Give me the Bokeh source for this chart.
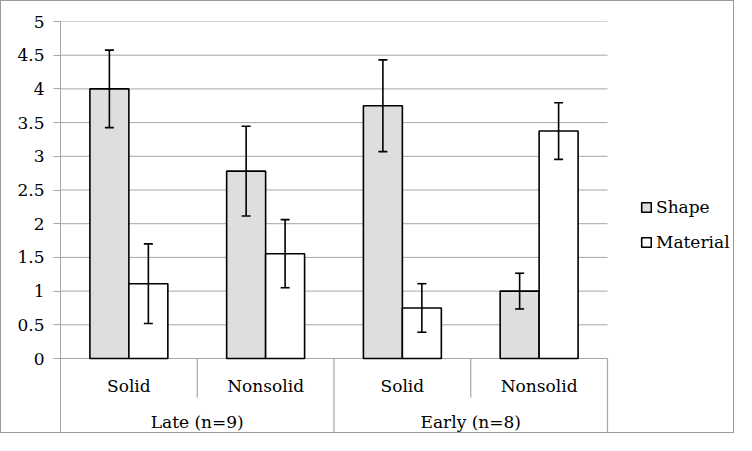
import numpy as np
from bokeh.plotting import figure
from bokeh.models import (ColumnDataSource, Range1d, FixedTicker, Whisker, TeeHead,
                          Legend, LegendItem)
from bokeh.core.properties import value
from bokeh.embed import file_html
from bokeh.resources import INLINE

# ---------------- data ----------------
groups = ["Late (n=9)", "Early (n=8)"]
conditions = ["Solid", "Nonsolid", "Solid", "Nonsolid"]
series_names = ["Shape", "Material"]
shape_mean = [4.0, 2.78, 3.75, 1.0]
shape_err = [0.575, 0.665, 0.68, 0.265]
material_mean = [1.11, 1.555, 0.75, 3.375]
material_err = [0.59, 0.505, 0.36, 0.42]
y_ticks = [0, 0.5, 1, 1.5, 2, 2.5, 3, 3.5, 4, 4.5, 5]

# ---------------- styling / layout ----------------
FONT = "DejaVu Serif"
FS = "17px"
GRID = "#A6A6A6"
SHAPE_FILL = "#DEDEDE"

LEFT_PX, RIGHT_PX, CAT_PX = 60, 733, 136.75     # image pixel columns
TOP_PX, ZERO_PX, BOTTOM_PX = 21, 358, 432       # image pixel rows
PX_PER_UNIT = (ZERO_PX - TOP_PX) / 5.0
y_bottom = -(BOTTOM_PX - ZERO_PX) / PX_PER_UNIT
x_right = (RIGHT_PX - LEFT_PX) / CAT_PX
cond_label_y = -(385 - ZERO_PX) / PX_PER_UNIT
group_label_y = -(421 - ZERO_PX) / PX_PER_UNIT
inner_sep_y = -(397 - ZERO_PX) / PX_PER_UNIT
bar_w = 0.285
n_cat = len(conditions)

W, H = 734, 433
p = figure(width=W, height=H, output_backend="svg", toolbar_location=None,
           x_range=Range1d(0, x_right), y_range=Range1d(y_bottom, 5),
           min_border_left=LEFT_PX - 1, min_border_top=TOP_PX - 1,
           min_border_bottom=H - (BOTTOM_PX - 1), min_border_right=W - (RIGHT_PX - 1))
p.styles = {"border": "1px solid #9A9A9A"}
p.outline_line_color = None
p.background_fill_color = "white"
p.border_fill_color = "white"

p.xaxis.visible = False
p.xgrid.visible = False
p.ygrid.visible = False

# horizontal gridlines across the category area only
p.segment(x0=[0] * len(y_ticks), y0=y_ticks, x1=[n_cat] * len(y_ticks), y1=y_ticks,
          line_color=GRID, line_width=1)

ya = p.yaxis[0]
ya.ticker = FixedTicker(ticks=y_ticks)
ya.axis_line_color = GRID
ya.major_tick_line_color = GRID
ya.major_tick_out = 7
ya.major_tick_in = 0
ya.minor_tick_line_color = None
ya.major_label_text_font = FONT
ya.major_label_text_font_size = FS
ya.major_label_text_color = "black"
ya.major_label_standoff = 9

centers = np.arange(n_cat) + 0.5

shape_src = ColumnDataSource(dict(x=centers - bar_w / 2, top=shape_mean,
                                  upper=np.array(shape_mean) + np.array(shape_err),
                                  lower=np.array(shape_mean) - np.array(shape_err)))
mat_src = ColumnDataSource(dict(x=centers + bar_w / 2, top=material_mean,
                                upper=np.array(material_mean) + np.array(material_err),
                                lower=np.array(material_mean) - np.array(material_err)))

r_shape = p.vbar(x="x", top="top", bottom=0, width=bar_w, source=shape_src,
                 fill_color=SHAPE_FILL, line_color="black", line_width=1.6)
r_mat = p.vbar(x="x", top="top", bottom=0, width=bar_w, source=mat_src,
               fill_color="white", line_color="black", line_width=1.6)

for src in (shape_src, mat_src):
    w = Whisker(base="x", upper="upper", lower="lower", source=src, dimension="height",
                line_color="black", line_width=1.6, level="overlay",
                upper_head=TeeHead(size=9, line_color="black", line_width=1.6),
                lower_head=TeeHead(size=9, line_color="black", line_width=1.6))
    p.add_layout(w)

# category separators below the axis
sep_x0 = [1, 3, 2, n_cat]
sep_y1 = [inner_sep_y, inner_sep_y, y_bottom, y_bottom]
p.segment(x0=sep_x0, y0=[0] * 4, x1=sep_x0, y1=sep_y1, line_color=GRID, line_width=1.2)

p.text(x=centers, y=[cond_label_y] * n_cat, text=conditions,
       text_font=value(FONT), text_font_size=value(FS), text_color="black",
       text_align="center", text_baseline="middle")
p.text(x=[1, 3], y=[group_label_y] * 2, text=groups,
       text_font=value(FONT), text_font_size=value(FS), text_color="black",
       text_align="center", text_baseline="middle")

legend = Legend(items=[LegendItem(label=series_names[0], renderers=[r_shape]),
                       LegendItem(label=series_names[1], renderers=[r_mat])],
                location=(640 - LEFT_PX, BOTTOM_PX - 252), orientation="vertical",
                glyph_width=12, glyph_height=12, spacing=15, padding=0, margin=0,
                label_standoff=4, label_text_font=FONT, label_text_font_size=FS,
                label_text_color="black",
                border_line_color=None, background_fill_alpha=0)
p.add_layout(legend, "center")

open("out.html", "w").write(file_html(p, INLINE))
